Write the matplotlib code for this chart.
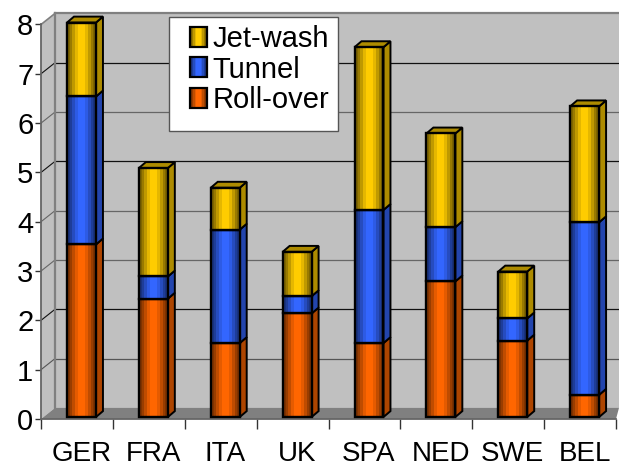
import numpy as np
import matplotlib
matplotlib.use("Agg")
import matplotlib.pyplot as plt
from matplotlib.colors import to_rgb
from matplotlib.legend_handler import HandlerBase
from matplotlib.patches import Patch, Polygon, Rectangle

plt.rcParams['font.family'] = ['Liberation Sans', 'DejaVu Sans']

countries = ['GER', 'FRA', 'ITA', 'UK', 'SPA', 'NED', 'SWE', 'BEL']
roll_over = [3.5, 2.4, 1.5, 2.1, 1.5, 2.75, 1.55, 0.45]
tunnel    = [3.0, 0.45, 2.3, 0.35, 2.7, 1.1, 0.45, 3.5]
jet_wash  = [1.5, 2.2, 0.85, 0.9, 3.3, 1.9, 0.95, 2.35]
y_ticks = [0, 1, 2, 3, 4, 5, 6, 7, 8]

series = [('Roll-over', roll_over, '#FF6600'),
          ('Tunnel', tunnel, '#3366FF'),
          ('Jet-wash', jet_wash, '#FFCC00')]

# 3D look: offsets of the back wall and of the bar depth, in data units
wall_dx, wall_dy = 0.195, 0.225
bar_dx, bar_dy = 0.097, 0.12
base_dy = 0.04
bar_left, bar_width = 0.362, 0.403
shade = np.array([0.5, 0.6, 0.75, 0.9, 1, 1, 1, 0.9, 0.75, 0.6, 0.5])


def stripes(color):
    return (np.outer(shade, to_rgb(color)))[np.newaxis, :, :]


class StripedHandler(HandlerBase):
    def create_artists(self, legend, orig, xd, yd, width, height, fontsize, trans):
        im = []
        n = len(shade)
        for k in range(n):
            c = np.array(to_rgb(orig.get_facecolor())) * shade[k]
            im.append(Rectangle((-xd + width * k / n, -yd), width / n, height,
                                facecolor=c, edgecolor='none', transform=trans))
        im.append(Rectangle((-xd, -yd), width, height, facecolor='none',
                            edgecolor='black', linewidth=1.6, transform=trans))
        return im


fig = plt.figure(figsize=(6.19, 4.69), dpi=100, facecolor='white')
ax = fig.add_axes([41 / 619, 50 / 469, 575 / 619, 394.5 / 469])
ax.set_facecolor('none')

# walls and floor
x_end = 8 + 3 / 71.9
ax.add_patch(Polygon([(wall_dx, wall_dy), (x_end, wall_dy), (x_end, 8 + wall_dy), (wall_dx, 8 + wall_dy)],
                     facecolor='#C0C0C0', edgecolor='none', zorder=1, clip_on=False))
ax.add_patch(Polygon([(0, 0), (wall_dx, wall_dy), (wall_dx, 8 + wall_dy), (0, 8)],
                     facecolor='#C0C0C0', edgecolor='none', zorder=1, clip_on=False))
ax.add_patch(Polygon([(0, 0), (8, 0), (x_end, wall_dy), (wall_dx, wall_dy)],
                     facecolor='#808080', edgecolor='none', zorder=1.1, clip_on=False))

# gridlines run across the wall, some come out darker than others
grid_colors = {1: '#555555', 2: '#111111', 3: '#666666', 4: '#666666',
               5: '#111111', 6: '#666666', 7: '#111111'}
for v, col in grid_colors.items():
    ax.plot([wall_dx, x_end], [v + wall_dy, v + wall_dy], color=col, lw=0.9, zorder=1.2, clip_on=False)
    ax.plot([0, wall_dx], [v, v + wall_dy], color=col, lw=0.8, zorder=1.2, clip_on=False)
ax.plot([wall_dx, x_end], [8 + wall_dy, 8 + wall_dy], color='#808080', lw=1.6, zorder=1.2, clip_on=False)
ax.plot([wall_dx, wall_dx], [wall_dy, 8 + wall_dy], color='#808080', lw=1.6, zorder=1.2, clip_on=False)
ax.plot([0, wall_dx], [8, 8 + wall_dy], color='#808080', lw=1.2, zorder=1.2, clip_on=False)

# stacked bars
bottoms = np.zeros(len(countries))
for s, (name, values, color) in enumerate(series):
    for i, val in enumerate(values):
        x0 = i + bar_left
        x1 = x0 + bar_width
        y0 = bottoms[i] + base_dy
        y1 = y0 + val
        z = 3 + s * 0.1
        side = np.array(to_rgb(color)) * 0.68
        ax.add_patch(Polygon([(x1, y0), (x1 + bar_dx, y0 + bar_dy), (x1 + bar_dx, y1 + bar_dy), (x1, y1)],
                             facecolor=side, edgecolor='black', linewidth=1.4, zorder=z, clip_on=False))
        ax.imshow(stripes(color), extent=(x0, x1, y0, y1), aspect='auto',
                  interpolation='nearest', zorder=z + 0.01, clip_on=False)
        ax.add_patch(Rectangle((x0, y0), bar_width, val, facecolor='none', edgecolor='black',
                               linewidth=1.7, zorder=z + 0.02, clip_on=False))
        if s == len(series) - 1:
            ax.add_patch(Polygon([(x0, y1), (x0 + bar_dx, y1 + bar_dy), (x1 + bar_dx, y1 + bar_dy), (x1, y1)],
                                 facecolor=side, edgecolor='black', linewidth=1.4, zorder=z, clip_on=False))
    bottoms += np.array(values)

ax.set_xlim(0, 8)
ax.set_ylim(0, 8)
ax.set_yticks(y_ticks)
ax.set_xticks(range(9))
ax.set_xticklabels([])
ax.set_xticks([i + bar_left + bar_width / 2 for i in range(len(countries))], countries, minor=True)
ax.tick_params(axis='y', length=4.5, width=1, color='#333333', pad=1, labelsize=21)
ax.tick_params(axis='x', which='major', length=7, width=1, color='#333333')
ax.tick_params(axis='x', which='minor', length=0, pad=16, labelsize=20)
for side_name in ('top', 'right'):
    ax.spines[side_name].set_visible(False)
for side_name in ('left', 'bottom'):
    ax.spines[side_name].set_color('#666666')
    ax.spines[side_name].set_linewidth(1.3)

# legend box is a little roomier than the entries inside it
ax.add_patch(Rectangle((169 / 619, 1 - 131 / 469), 169 / 619, 114 / 469, facecolor='white',
                       edgecolor='#555555', linewidth=1, transform=fig.transFigure, zorder=9, clip_on=False))
handles = [Patch(facecolor=c, label=n) for n, _, c in reversed(series)]
leg = ax.legend(handles=handles, loc='upper left',
                bbox_to_anchor=(190 / 619, 1 - 25 / 469), bbox_transform=fig.transFigure,
                handler_map={Patch: StripedHandler()}, fontsize=21, frameon=False,
                borderaxespad=0, borderpad=0, handlelength=0.58, handleheight=0.68,
                handletextpad=0.2, labelspacing=0.09)
leg.set_zorder(10)

fig.savefig('out.png', dpi=100)
